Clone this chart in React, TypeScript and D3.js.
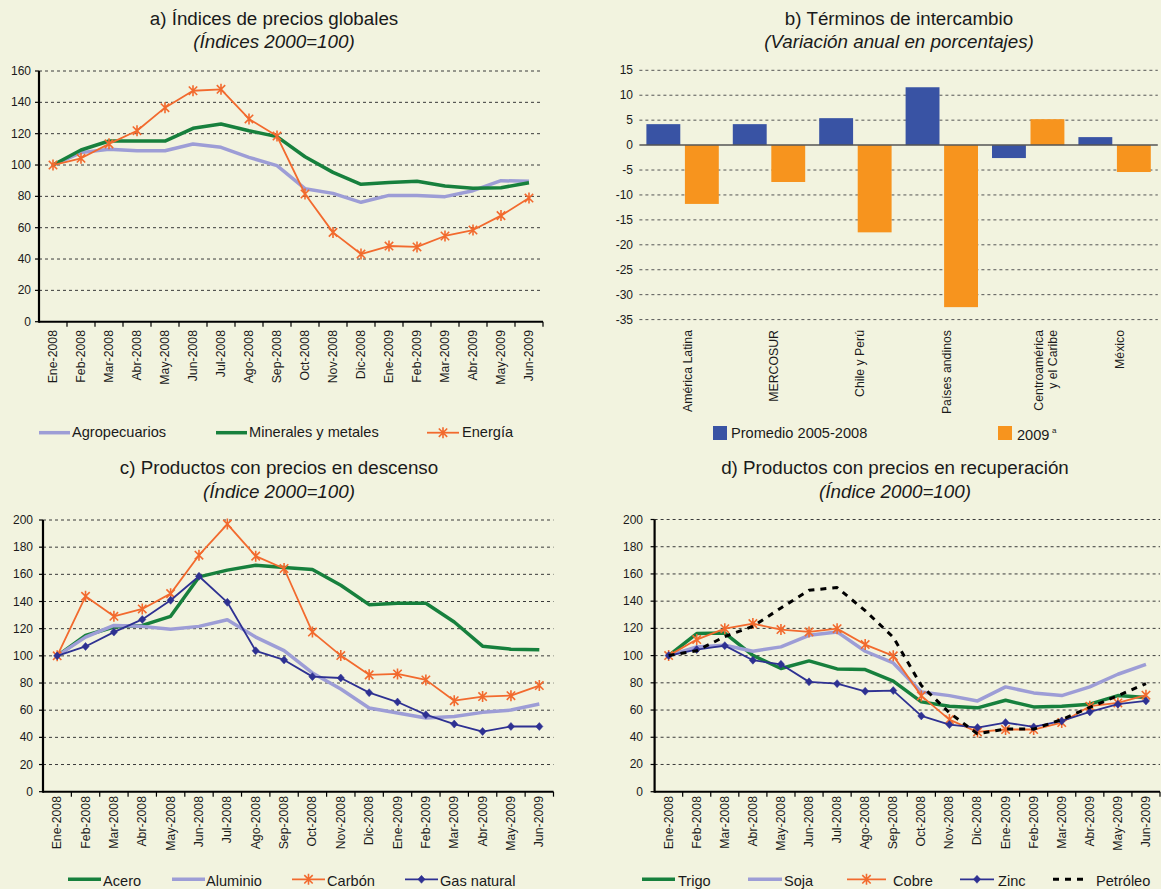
import React from 'react';
import * as d3 from 'd3';

// ---------- DATA ----------
const months = [
  'Ene-2008', 'Feb-2008', 'Mar-2008', 'Abr-2008', 'May-2008', 'Jun-2008', 'Jul-2008', 'Ago-2008', 'Sep-2008',
  'Oct-2008', 'Nov-2008', 'Dic-2008', 'Ene-2009', 'Feb-2009', 'Mar-2009', 'Abr-2009', 'May-2009', 'Jun-2009',
];

// a) Índices de precios globales
const agropecuarios = [100, 107.9, 110.0, 109.1, 109.1, 113.4, 111.3, 104.9, 99.6, 84.9, 81.9, 76.2, 80.6, 80.6, 79.8, 83.6, 90.0, 89.6];
const mineralesMetales = [100, 109.6, 115.3, 115.3, 115.3, 123.4, 126.2, 121.9, 118.1, 105.3, 95.3, 87.7, 88.9, 89.6, 86.6, 85.1, 85.5, 88.7];
const energia = [100, 104.3, 113.5, 121.9, 136.6, 147.4, 148.3, 129.4, 118.5, 81.5, 57.0, 43.2, 48.3, 47.7, 54.7, 58.5, 67.7, 78.9];

// b) Términos de intercambio
const regiones = [['América Latina'], ['MERCOSUR'], ['Chile y Perú'], ['Países andinos'], ['Centroamérica', 'y el Caribe'], ['México']];
const promedio2005_2008 = [4.2, 4.2, 5.4, 11.6, -2.6, 1.6];
const anio2009 = [-11.8, -7.4, -17.5, -32.5, 5.2, -5.4];
const ticksB = [15, 10, 5, 0, -5, -10, -15, -20, -25, -30, -35];

// c) Productos con precios en descenso
const acero = [100, 115.0, 121.2, 122.4, 129.1, 158.1, 163.1, 166.7, 165.0, 163.5, 152.0, 137.7, 138.7, 138.7, 124.9, 107.1, 104.9, 104.4];
const aluminio = [100, 113.8, 122.4, 121.7, 119.5, 121.7, 126.6, 113.8, 103.9, 87.4, 75.6, 61.6, 57.9, 54.2, 55.4, 58.4, 60.1, 64.5];
const carbon = [100, 143.8, 129.1, 134.5, 145.8, 174.1, 197.0, 173.4, 164.3, 117.5, 100.2, 86.0, 86.7, 82.3, 67.0, 70.0, 70.7, 78.1];
const gasNatural = [100, 106.9, 117.5, 126.8, 140.9, 158.6, 139.4, 103.7, 97.0, 84.7, 83.7, 72.9, 66.0, 56.7, 49.8, 44.3, 48.0, 48.0];

// d) Productos con precios en recuperación
const trigo = [100, 116.2, 116.6, 100.2, 90.5, 96.1, 90.2, 89.7, 81.2, 66.0, 62.8, 61.6, 67.2, 62.3, 62.8, 64.3, 70.6, 69.2];
const soja = [100, 106.4, 107.6, 103.2, 106.4, 114.9, 117.4, 103.2, 94.6, 73.3, 70.6, 66.7, 77.0, 72.6, 70.6, 77.0, 86.3, 93.6];
const cobre = [100, 111.8, 119.8, 123.5, 119.1, 117.4, 119.8, 108.1, 99.8, 70.4, 53.0, 43.9, 45.7, 45.7, 50.8, 62.8, 65.2, 70.9];
const zinc = [100, 104.4, 107.3, 96.6, 93.6, 80.7, 79.4, 73.8, 74.3, 55.7, 49.3, 47.1, 50.8, 47.6, 52.0, 58.6, 64.3, 66.7];
const petroleo = [100, 103.5, 114, 121.5, 135, 148, 150, 133, 113.5, 78, 58, 42.5, 46, 46, 53, 62, 70.5, 79.5];

// ---------- STYLE ----------
const BG = '#f2f3df';
const GREEN = '#17803d';
const LAVENDER = '#9d9dd6';
const ORANGE = '#f26a2e';
const NAVY = '#2e3192';
const BAR_BLUE = '#3953a4';
const BAR_ORANGE = '#f7941e';
const FONT = '"Liberation Sans", Arial, Helvetica, sans-serif';
const TXT = '#1a1a1a';
const LEGEND_FS = 14.6;
const TITLE_FS = 18.8;

type Marker = 'star' | 'diamond' | undefined;
type Series = { name: string; values: number[]; color: string; width: number; marker?: Marker; dash?: string };

function markerPath(m: Marker, cx: number, cy: number) {
  if (m === 'star') {
    const r = 5.5, d = 4.2;
    return `M${cx},${cy - r}L${cx},${cy + r}M${cx - d},${cy - d}L${cx + d},${cy + d}M${cx - d},${cy + d}L${cx + d},${cy - d}`;
  }
  if (m === 'diamond') {
    return `M${cx},${cy - 4}L${cx + 3.6},${cy}L${cx},${cy + 4}L${cx - 3.6},${cy}Z`;
  }
  return '';
}

function MarkerShape({ m, cx, cy, color }: { m: Marker; cx: number; cy: number; color: string }) {
  if (!m) return null;
  if (m === 'diamond') return <path d={markerPath(m, cx, cy)} fill={color} stroke={color} strokeWidth={0.5} />;
  return <path d={markerPath(m, cx, cy)} fill="none" stroke={color} strokeWidth={1.6} />;
}

type LegendItem = { s: Series; lx0: number; lx1: number; tx: number };

function LinePanel(props: {
  x0: number; x1: number; yZero: number; yTop: number; max: number;
  labelEnd: number; monthTop: number; series: Series[];
  legend: LegendItem[]; legendY: number; legendBase: number;
}) {
  const { x0, x1, yZero, yTop, max, labelEnd, monthTop, series, legend, legendY, legendBase } = props;
  const x = d3.scaleBand<string>().domain(months).range([x0, x1]).padding(0);
  const y = d3.scaleLinear().domain([0, max]).range([yZero, yTop]);
  const ticks = y.ticks(max / 20);
  const cx = (i: number) => (x(months[i]) as number) + x.bandwidth() / 2;
  const line = d3.line<number>().x((_, i) => cx(i)).y((d) => y(d));
  const bounds = months.map((m) => (x(m) as number) + x.bandwidth());
  return (
    <g>
      {ticks.filter((t) => t > 0).map((t) => (
        <line key={'g' + t} x1={x0} x2={x1} y1={y(t)} y2={y(t)} stroke="#3a3a3a" strokeWidth={1} strokeDasharray="3,3" />
      ))}
      {ticks.map((t) => (
        <g key={'t' + t}>
          <line x1={x0 - 4} x2={x0} y1={y(t)} y2={y(t)} stroke="#000" strokeWidth={1.2} />
          <text x={labelEnd} y={y(t)} textAnchor="end" dominantBaseline="central" fontSize={12} fontFamily={FONT} fill={TXT}>{t}</text>
        </g>
      ))}
      {bounds.map((b, i) => (
        <line key={'xt' + i} x1={b} x2={b} y1={yZero} y2={yZero + 5} stroke="#000" strokeWidth={1.2} />
      ))}
      {months.map((m, i) => (
        <text key={'m' + m} transform={`translate(${cx(i)},${monthTop}) rotate(-90)`} textAnchor="end" dominantBaseline="central"
          fontSize={12.3} fontFamily={FONT} fill={TXT}>{m}</text>
      ))}
      <line x1={x0} x2={x1} y1={yZero} y2={yZero} stroke="#000" strokeWidth={2} />
      <line x1={x0} x2={x0} y1={yTop} y2={yZero + 1} stroke="#000" strokeWidth={2.2} />
      {series.map((s) => (
        <g key={s.name}>
          <path d={line(s.values) as string} fill="none" stroke={s.color} strokeWidth={s.width} strokeDasharray={s.dash}
            strokeLinejoin="round" />
          {s.values.map((v, i) => (
            <MarkerShape key={i} m={s.marker} cx={cx(i)} cy={y(v)} color={s.color} />
          ))}
        </g>
      ))}
      {legend.map((it) => (
        <g key={'l' + it.s.name}>
          <line x1={it.lx0} x2={it.lx1} y1={legendY} y2={legendY} stroke={it.s.color} strokeWidth={it.s.width}
            strokeDasharray={it.s.dash} />
          <MarkerShape m={it.s.marker} cx={(it.lx0 + it.lx1) / 2} cy={legendY} color={it.s.color} />
          <text x={it.tx} y={legendBase} fontSize={LEGEND_FS} fontFamily={FONT} fill={TXT}>{it.s.name}</text>
        </g>
      ))}
    </g>
  );
}

function Title({ cx, y1, y2, t1, t2 }: { cx: number; y1: number; y2: number; t1: string; t2: string }) {
  return (
    <g fontFamily={FONT} fill={TXT} textAnchor="middle">
      <text x={cx} y={y1} fontSize={TITLE_FS}>{t1}</text>
      <text x={cx} y={y2} fontSize={TITLE_FS} fontStyle="italic">{t2}</text>
    </g>
  );
}

function BarPanel() {
  const x0 = 639.4, x1 = 1157.8;
  const x = d3.scaleBand<number>().domain(regiones.map((_, i) => i)).range([x0, x1]).padding(0);
  const inner = d3.scaleBand<string>().domain(['p', 'a']).range([7, x.bandwidth() - 7]).paddingInner(0.12);
  const y = d3.scaleLinear().domain([-35, 15]).range([319.6, 70.3]);
  return (
    <g>
      {ticksB.filter((t) => t !== 0).map((t) => (
        <line key={'g' + t} x1={x0} x2={x1} y1={y(t)} y2={y(t)} stroke="#555" strokeWidth={1} strokeDasharray="3,3" />
      ))}
      {ticksB.map((t) => (
        <text key={'t' + t} x={633} y={y(t)} textAnchor="end" dominantBaseline="central" fontSize={12} fontFamily={FONT} fill={TXT}>{t}</text>
      ))}
      {regiones.map((r, i) => {
        const gx = x(i) as number;
        const vals = [promedio2005_2008[i], anio2009[i]];
        return (
          <g key={'r' + i}>
            {vals.map((v, j) => (
              <rect key={j} x={gx + (inner(j === 0 ? 'p' : 'a') as number)} width={inner.bandwidth()}
                y={Math.min(y(v), y(0))} height={Math.abs(y(v) - y(0))} fill={j === 0 ? BAR_BLUE : BAR_ORANGE} />
            ))}
          </g>
        );
      })}
      <line x1={x0} x2={x1} y1={y(0)} y2={y(0)} stroke="#555" strokeWidth={1.5} />
      {regiones.map((r, i) => {
        const c = (x(i) as number) + x.bandwidth() / 2;
        return r.map((ln, k) => (
          <text key={'c' + i + k} transform={`translate(${c + (r.length > 1 ? 11 + 14 * k : 5)},330) rotate(-90)`}
            textAnchor="end" dominantBaseline="central" fontSize={12.3} fontFamily={FONT} fill={TXT}>{ln}</text>
        ));
      })}
      <rect x={713} y={426} width={14} height={14} fill={BAR_BLUE} />
      <text x={731} y={438} fontSize={LEGEND_FS} fontFamily={FONT} fill={TXT}>Promedio 2005-2008</text>
      <rect x={998} y={426} width={14} height={14} fill={BAR_ORANGE} />
      <text x={1017} y={440} fontSize={LEGEND_FS} fontFamily={FONT} fill={TXT}>2009</text>
      <text x={1052} y={433} fontSize={8} fontFamily={FONT} fill={TXT}>a</text>
    </g>
  );
}

export default function App() {
  const sAgro: Series = { name: 'Agropecuarios', values: agropecuarios, color: LAVENDER, width: 3.5 };
  const sMin: Series = { name: 'Minerales y metales', values: mineralesMetales, color: GREEN, width: 3.5 };
  const sEn: Series = { name: 'Energía', values: energia, color: ORANGE, width: 1.8, marker: 'star' };

  const sAce: Series = { name: 'Acero', values: acero, color: GREEN, width: 3.5 };
  const sAlu: Series = { name: 'Aluminio', values: aluminio, color: LAVENDER, width: 3.5 };
  const sCar: Series = { name: 'Carbón', values: carbon, color: ORANGE, width: 1.8, marker: 'star' };
  const sGas: Series = { name: 'Gas natural', values: gasNatural, color: NAVY, width: 1.8, marker: 'diamond' };

  const sTri: Series = { name: 'Trigo', values: trigo, color: GREEN, width: 3.5 };
  const sSoj: Series = { name: 'Soja', values: soja, color: LAVENDER, width: 3.5 };
  const sCob: Series = { name: 'Cobre', values: cobre, color: ORANGE, width: 1.8, marker: 'star' };
  const sZin: Series = { name: 'Zinc', values: zinc, color: NAVY, width: 1.8, marker: 'diamond' };
  const sPet: Series = { name: 'Petróleo', values: petroleo, color: '#000', width: 3, dash: '6,6' };

  return (
    <svg width={1161} height={889} style={{ position: 'absolute', left: 0, top: 0, background: BG }}>
      <rect x={0} y={0} width={1161} height={889} fill={BG} />
      <Title cx={274} y1={25} y2={48} t1="a) Índices de precios globales" t2="(Índices 2000=100)" />
      <Title cx={899} y1={25} y2={48} t1="b) Términos de intercambio" t2="(Variación anual en porcentajes)" />
      <Title cx={279} y1={474} y2={498} t1="c) Productos con precios en descenso" t2="(Índice 2000=100)" />
      <Title cx={895} y1={474} y2={498} t1="d) Productos con precios en recuperación" t2="(Índice 2000=100)" />

      <LinePanel x0={39} x1={543} yZero={321.7} yTop={71} max={160} labelEnd={31} monthTop={330}
        series={[sAgro, sMin, sEn]}
        legend={[{ s: sAgro, lx0: 39, lx1: 70, tx: 72 }, { s: sMin, lx0: 216, lx1: 247, tx: 249 }, { s: sEn, lx0: 427, lx1: 459, tx: 462 }]}
        legendY={432.7} legendBase={437} />

      <BarPanel />

      <LinePanel x0={43} x1={553.5} yZero={791.7} yTop={520} max={200} labelEnd={33} monthTop={796}
        series={[sAce, sAlu, sCar, sGas]}
        legend={[{ s: sAce, lx0: 68, lx1: 101, tx: 103 }, { s: sAlu, lx0: 172, lx1: 205, tx: 206 },
          { s: sCar, lx0: 292, lx1: 325, tx: 327 }, { s: sGas, lx0: 405, lx1: 438, tx: 440 }]}
        legendY={879.3} legendBase={886} />

      <LinePanel x0={654.6} x1={1160} yZero={791.7} yTop={519.5} max={200} labelEnd={643} monthTop={796}
        series={[sTri, sSoj, sCob, sZin, sPet]}
        legend={[{ s: sTri, lx0: 642, lx1: 675, tx: 678 }, { s: sSoj, lx0: 748, lx1: 782, tx: 784 },
          { s: sCob, lx0: 847, lx1: 886, tx: 893 }, { s: sZin, lx0: 960, lx1: 994, tx: 998 },
          { s: sPet, lx0: 1053, lx1: 1087, tx: 1096 }]}
        legendY={879.3} legendBase={886} />
    </svg>
  );
}
